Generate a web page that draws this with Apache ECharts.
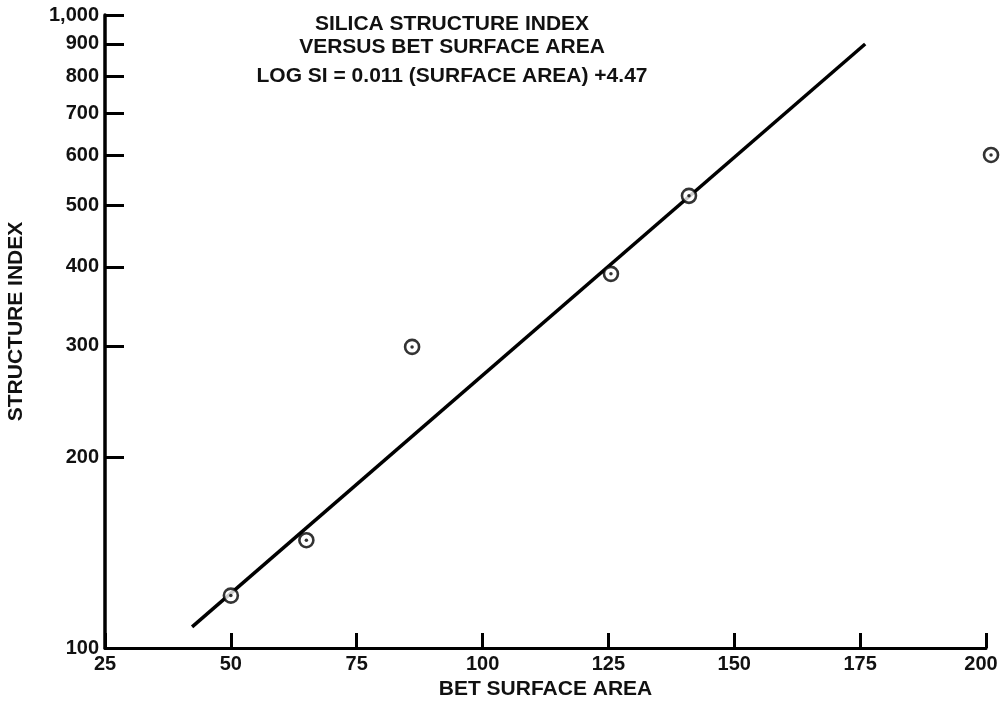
<!DOCTYPE html>
<html>
<head>
<meta charset="utf-8">
<script src="https://cdn.jsdelivr.net/npm/echarts@6/dist/echarts.min.js"></script>
<style>
html,body{margin:0;padding:0;background:#fff;}
#chart{width:1001px;height:701px;}
</style>
</head>
<body>
<div id="chart"></div>
<script>
// Data
const surfaceArea = [50, 65, 86, 125.5, 141, 201];
const structureIndex = [121, 148, 299, 390, 518, 601];
const fitLineX = [42.3, 176];
const fitLineY = [108, 900];
const yTickValues = [100, 200, 300, 400, 500, 600, 700, 800, 900, 1000];
const xTickValues = [25, 50, 75, 100, 125, 150, 175, 200];
const titleLines = ['SILICA STRUCTURE INDEX', 'VERSUS BET SURFACE AREA', 'LOG SI = 0.011 (SURFACE AREA) +4.47'];

const FONT = "'Liberation Sans', Arial, sans-serif";
const points = surfaceArea.map((x, i) => [x, structureIndex[i]]);
const fitLine = fitLineX.map((x, i) => [x, fitLineY[i]]);
const xMax = xTickValues[xTickValues.length - 1];

const labelStyle = {fontFamily: FONT, fontSize: 20, fontWeight: 'bold', color: '#111'};

const chart = echarts.init(document.getElementById('chart'), null, {renderer: 'canvas'});
const titleCenters = [24, 47, 76];
chart.setOption({
  animation: false,
  backgroundColor: '#ffffff',
  title: titleLines.map((t, i) => ({
    text: t,
    left: 452,
    top: titleCenters[i] - 12,
    textAlign: 'center',
    padding: 0,
    textStyle: {fontFamily: FONT, fontSize: 21, fontWeight: 'bold', color: '#111', lineHeight: 24}
  })),
  grid: {left: 105, right: 15, top: 15, bottom: 53, containLabel: false, outerBoundsMode: 'none'},
  xAxis: {
    type: 'value',
    min: xTickValues[0], max: xMax, interval: 25,
    name: 'BET SURFACE AREA',
    nameLocation: 'middle',
    nameGap: 31,
    nameTextStyle: {fontFamily: FONT, fontSize: 21, fontWeight: 'bold', color: '#111'},
    axisLine: {show: true, onZero: false, lineStyle: {color: '#000', width: 3}},
    axisTick: {show: true, inside: true, length: 15, lineStyle: {color: '#000', width: 3}},
    axisLabel: Object.assign({}, labelStyle, {
      margin: 6,
      formatter: v => v === xMax ? '{last|' + v + '}' : String(v),
      rich: {last: Object.assign({}, labelStyle, {padding: [0, 10, 0, 0]})}
    }),
    splitLine: {show: false}
  },
  yAxis: {
    type: 'log',
    logBase: 10,
    min: yTickValues[0], max: yTickValues[yTickValues.length - 1],
    name: 'STRUCTURE INDEX',
    nameLocation: 'middle',
    nameGap: 78,
    nameRotate: 90,
    nameTextStyle: {fontFamily: FONT, fontSize: 21, fontWeight: 'bold', color: '#111', padding: [0, 0, 0, 20]},
    axisLine: {show: true, onZero: false, lineStyle: {color: '#000', width: 3.5}},
    axisTick: {show: true, inside: true, length: 19, customValues: yTickValues, lineStyle: {color: '#000', width: 3}},
    axisLabel: Object.assign({}, labelStyle, {
      margin: 6,
      customValues: yTickValues,
      formatter: v => Number(v).toLocaleString('en-US')
    }),
    splitLine: {show: false}
  },
  series: [
    {
      type: 'line',
      data: fitLine,
      showSymbol: false,
      symbol: 'none',
      lineStyle: {color: '#000', width: 3.5},
      z: 2
    },
    {
      type: 'scatter',
      data: points,
      clip: false,
      symbol: 'circle',
      symbolSize: 14,
      itemStyle: {color: '#fff', borderColor: '#000', borderWidth: 2.6},
      z: 3
    },
    {
      type: 'scatter',
      data: points,
      clip: false,
      symbol: 'circle',
      symbolSize: 3.5,
      itemStyle: {color: '#000'},
      z: 4
    }
  ]
});
</script>
</body>
</html>
